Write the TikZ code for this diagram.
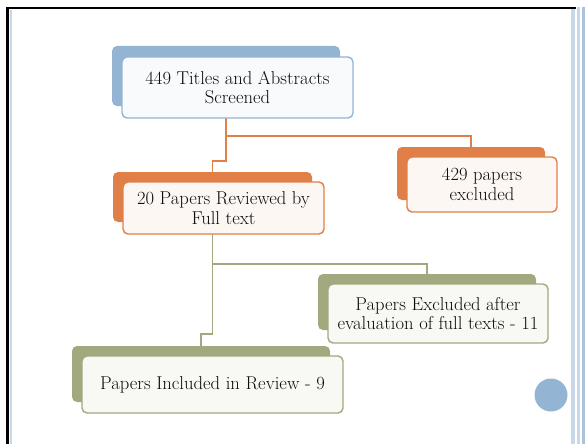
\documentclass[tikz,border=0pt]{standalone}
\usepackage{tikz}
\usetikzlibrary{backgrounds}
\definecolor{paleblue}{HTML}{94B4D3}
\definecolor{deeporange}{HTML}{E07F48}
\definecolor{sage}{HTML}{A3A97E}
\definecolor{stripeblue}{HTML}{C9D8E8}

\begin{document}
\begin{tikzpicture}[x=1pt,y=-1pt,
  card/.style={draw,fill=white,rounded corners=5pt,line width=1.4pt,align=center,inner sep=0pt,
    text=black!95,font=\fontsize{18.6}{19.5}\selectfont},
  back/.style={rounded corners=5pt,inner sep=0pt},
  link/.style={line width=1.6pt}]
\useasboundingbox (0,0) rectangle (585,444);
% slide frame
\fill[stripeblue] (571,7) rectangle (575,444);
\fill[stripeblue] (577,7) rectangle (580,444);
\fill[paleblue!80] (582,7) rectangle (585,444);
\draw[stripeblue,line width=1.5pt] (11,10) -- (11,444);
\draw[line width=2.5pt] (6,8) -- (576,8);
\draw[line width=2.5pt] (7.5,8) -- (7.5,444);
% back cards
\node[back,fill=paleblue,minimum width=228pt,minimum height=60pt](b1s) at (226,76){};
\node[back,fill=deeporange,minimum width=148pt,minimum height=53pt](rs) at (471,173.5){};
\node[back,fill=deeporange,minimum width=199pt,minimum height=50pt](b2s) at (212.5,197){};
\node[back,fill=sage,minimum width=218pt,minimum height=56pt](b11s) at (427,302){};
\node[back,fill=sage,minimum width=258pt,minimum height=56pt](b9s) at (201,374){};
% front cards
\node[card,draw=paleblue,fill=paleblue!7,minimum width=231pt,minimum height=61pt](b1) at (237.5,87.5){449 Titles and Abstracts\\Screened};
\node[card,draw=deeporange,fill=deeporange!6,minimum width=150pt,minimum height=55pt](r) at (482,184.5){429 papers\\excluded};
\node[card,draw=deeporange,fill=deeporange!6,minimum width=201pt,minimum height=52pt](b2) at (223.5,208){20 Papers Reviewed by\\Full text};
\node[card,draw=sage,fill=sage!8,minimum width=220pt,minimum height=59pt](b11) at (438,313.5){Papers Excluded after\\evaluation of full texts - 11};
\node[card,draw=sage,fill=sage!8,minimum width=261pt,minimum height=57pt](b9) at (212.5,384.5){Papers Included in Review - 9};
% connectors
\begin{scope}[on background layer]
\draw[link,deeporange] (b1s.south) -- ++(0,30) -| (rs.north);
\draw[link,deeporange] (b1s.south) -- ++(0,55) -| (b2s.north);
\draw[link,sage] (b2s.south) -- ++(0,42) -| (b11s.north);
\draw[link,sage] (b2s.south) -- ++(0,112) -| (b9s.north);
\end{scope}
% page marker
\node[circle,fill=paleblue,minimum size=33pt,inner sep=0pt](dot) at (551,395){};
\end{tikzpicture}
\end{document}
